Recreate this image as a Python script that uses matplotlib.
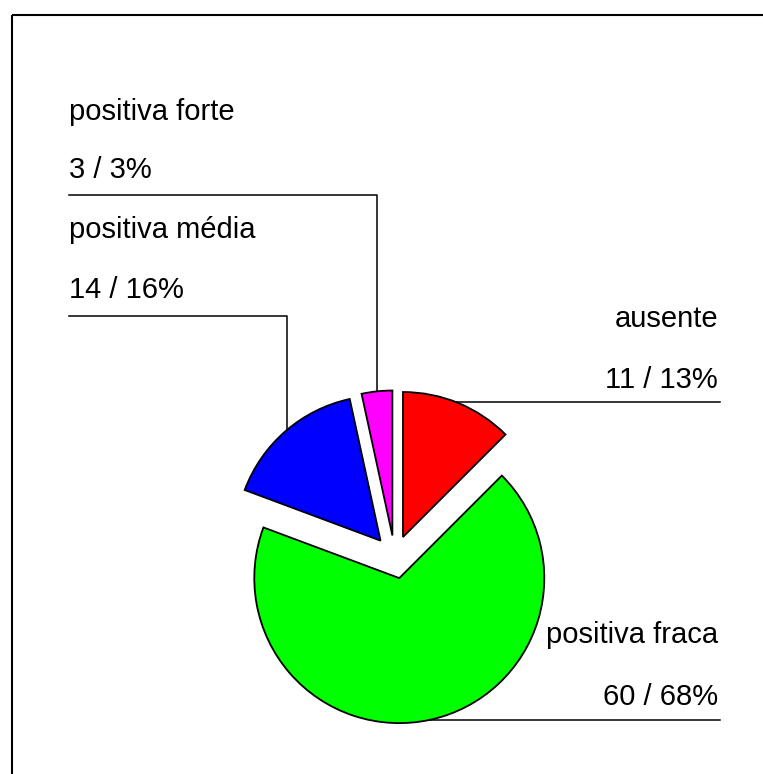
import numpy as np
import matplotlib
matplotlib.use('Agg')
import matplotlib.pyplot as plt

categorias = ['ausente', 'positiva fraca', 'positiva média', 'positiva forte']
contagens = [11, 60, 14, 3]
cores = ['#ff0000', '#00ff00', '#0000ff', '#ff00ff']

W, H = 763, 774
fig = plt.figure(figsize=(W / 100, H / 100), dpi=100)
ax = fig.add_axes([0, 0, 1, 1])

R = 145
centro = (394.7, H - 557)
wedges, _ = ax.pie(contagens, explode=[0.149 * R] * 4, colors=cores,
                   startangle=90, counterclock=False, center=centro, radius=R,
                   frame=True,
                   wedgeprops=dict(edgecolor='black', linewidth=1.3))
ax.set_xlim(0, W)
ax.set_ylim(0, H)
ax.set_aspect('equal')
ax.axis('off')

# moldura (so topo e esquerda visiveis)
ax.plot([12, W], [H - 15, H - 15], color='black', lw=1.5, solid_capstyle='butt')
ax.plot([12, 12], [H - 15, 0], color='black', lw=1.5, solid_capstyle='butt')

total = sum(contagens)
rotulos = ['%d / %d%%' % (c, int(100.0 * c / total + 0.5)) for c in contagens]

def arco_y(w, x, cima=True):
    cx, cy = w.center
    d = np.sqrt(w.r ** 2 - (x - cx) ** 2)
    return cy + d if cima else cy - d

def arco_x(w, y):
    cx, cy = w.center
    return cx + np.sqrt(w.r ** 2 - (y - cy) ** 2)

fs = 21
fam = ['Liberation Sans', 'DejaVu Sans']
lc = dict(color='black', lw=1.1)

# ausente (direita)
ax.text(718, H - 327, categorias[0], ha='right', va='baseline', fontsize=fs, family=fam)
ax.text(718, H - 388, rotulos[0], ha='right', va='baseline', fontsize=fs, family=fam)
yl = H - 402
ax.plot([arco_x(wedges[0], yl), 720], [yl, yl], **lc)

# positiva fraca (direita, embaixo)
ax.text(718, H - 643, categorias[1], ha='right', va='baseline', fontsize=fs, family=fam)
ax.text(718, H - 705, rotulos[1], ha='right', va='baseline', fontsize=fs, family=fam)
yl = H - 720
ax.plot([arco_x(wedges[1], yl), 720], [yl, yl], **lc)

# positiva media (esquerda)
ax.text(69, H - 238, categorias[2], ha='left', va='baseline', fontsize=fs, family=fam)
ax.text(69, H - 298, rotulos[2], ha='left', va='baseline', fontsize=fs, family=fam)
yl, xl = H - 316, 287
ax.plot([69, xl, xl], [yl, yl, arco_y(wedges[2], xl)], **lc)

# positiva forte (esquerda, topo)
ax.text(69, H - 120, categorias[3], ha='left', va='baseline', fontsize=fs, family=fam)
ax.text(69, H - 178, rotulos[3], ha='left', va='baseline', fontsize=fs, family=fam)
yl, xl = H - 195, 377
ax.plot([69, xl, xl], [yl, yl, arco_y(wedges[3], xl)], **lc)

fig.savefig('out.png', dpi=100)
